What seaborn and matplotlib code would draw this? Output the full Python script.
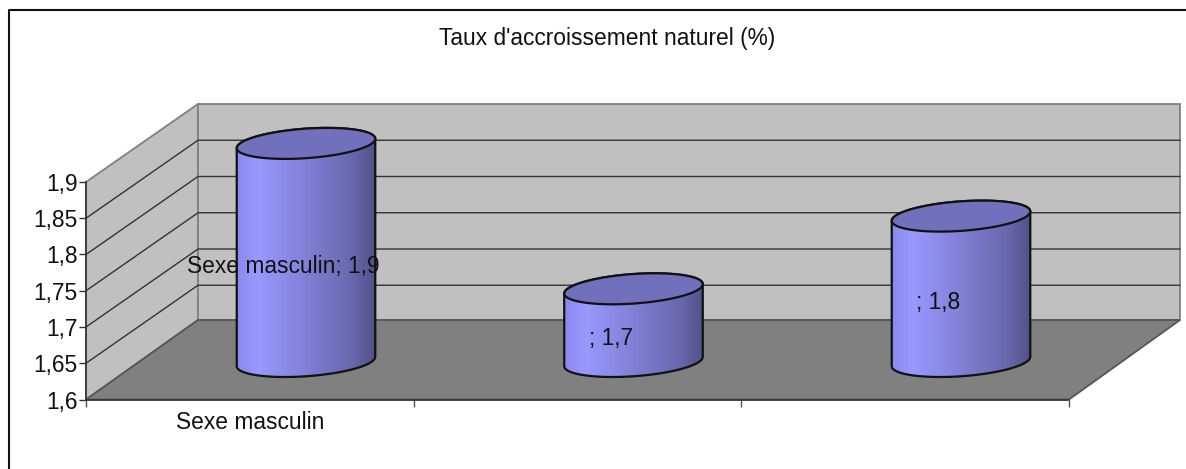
import numpy as np
import pandas as pd
import seaborn as sns
import matplotlib.pyplot as plt
from matplotlib.patches import Polygon
from matplotlib.ticker import FuncFormatter
from matplotlib.transforms import Affine2D

# Chart values
categories = ['Sexe masculin', ' ', '  ']
values = [1.9, 1.7, 1.8]
point_labels = ['Sexe masculin; 1,9', '; 1,7', '; 1,8']
y_ticks = [1.6, 1.65, 1.7, 1.75, 1.8, 1.85, 1.9]
title = "Taux d'accroissement naturel (%)"

W, H = 1186, 469
Y_BASE = 1.6
FONT_SIZE = 16.4

sns.set_theme(style='white')
plt.rcParams['font.family'] = ['Liberation Sans', 'DejaVu Sans']

fig = plt.figure(figsize=(W / 100, H / 100), dpi=100, facecolor='white')
# pixels, y going down
px = Affine2D().scale(1 / W, -1 / H).translate(0, 1) + fig.transFigure


def axes_box(left, top, right, bottom):
    return [left / W, 1 - bottom / H, (right - left) / W, (bottom - top) / H]


# Front plane: value axis and category axis
front = fig.add_axes(axes_box(86, 182, 1069, 399.5), zorder=1)
front.patch.set_visible(False)
front.set_xlim(-0.5, 2.5)
front.set_ylim(Y_BASE, max(y_ticks))
sns.despine(ax=front)
for side in ['left', 'bottom']:
    front.spines[side].set_color('#333333')
    front.spines[side].set_linewidth(1.2)
front.set_yticks(y_ticks)
front.yaxis.set_major_formatter(FuncFormatter(lambda v, p: f'{v:g}'.replace('.', ',')))
front.set_xticks([-0.5, 0.5, 1.5, 2.5])
front.set_xticklabels([])
front.set_xticks([0], labels=[categories[0]], minor=True)
front.tick_params(axis='y', length=5, width=1, color='#333333', labelsize=FONT_SIZE, pad=1, left=True, labelcolor='#111111')
front.tick_params(axis='x', which='major', length=5, width=1, color='#555555', bottom=True)
front.tick_params(axis='x', which='minor', length=0, labelsize=FONT_SIZE, pad=8, labelcolor='#111111')

# Walls and floor of the box
walls = [
    ([(86, 182), (198, 104), (198, 320), (86, 399.5)], '#c0c0c0', '#808080'),
    ([(198, 104), (1180, 104), (1180, 320), (198, 320)], '#c0c0c0', '#808080'),
    ([(86, 399.5), (198, 320), (1180, 320), (1069, 399.5)], '#808080', '#555555'),
]
for pts, fc, ec in walls:
    front.add_patch(Polygon(pts, closed=True, facecolor=fc, edgecolor=ec, linewidth=1.3,
                            transform=px, clip_on=False, zorder=0.5))

# Gridlines on the walls, from the value ticks
for v in y_ticks[1:-1]:
    yf = 399.5 - (v - Y_BASE) * 725
    front.plot([86, 198, 1180], [yf, yf - 78, yf - 78], color='#333333', linewidth=1,
               transform=px, clip_on=False, zorder=0.8)

# Bars plane, cylinders sit here
main = fig.add_axes([0, 0, 1, 1], zorder=2)
main.patch.set_visible(False)
px_per_cat = 327.5
px_per_val = 727.0
xlim = ((0 - 306) / px_per_cat, (W - 306) / px_per_cat)
ylim = (Y_BASE + (361.5 - H) / px_per_val, Y_BASE + 361.5 / px_per_val)

df = pd.DataFrame({'cat': categories, 'height': [v - Y_BASE for v in values]})
sns.barplot(data=df, x='cat', y='height', bottom=Y_BASE, order=categories, width=132 / px_per_cat,
            color='#9999ff', saturation=1, linewidth=0, ax=main)
main.axis('off')

# Cap of a cylinder is a circle sheared along the floor depth
t = np.linspace(0, 2 * np.pi, 181)
cap_x = (66 * np.cos(t) + 21 * np.sin(t)) / px_per_cat
cap_y = 15.5 * np.sin(t) / px_per_val
half = 69 / px_per_cat
right = np.argmax(cap_x)
left = np.argmin(cap_x)

# shading across the body, stepped like the original
stops = np.array([0.0, 0.14, 0.5, 0.8, 1.0])
shade = np.array([[138, 138, 240], [153, 153, 255], [128, 128, 214], [108, 108, 180], [84, 84, 140]]) / 255
steps = np.linspace(0, 1, 34)
grad = np.stack([np.interp(steps, stops, shade[:, i]) for i in range(3)], axis=-1)[np.newaxis, :, :]

for i, v in enumerate(values):
    # outline: lower half of the base cap, then back along the upper edge of the top cap
    idx_low = np.r_[left:len(t), 0:right + 1]
    idx_top = np.arange(right, left + 1)
    body_pts = np.r_[np.c_[i + cap_x[idx_low], Y_BASE + cap_y[idx_low]],
                     np.c_[i + cap_x[idx_top], v + cap_y[idx_top]]]
    body = Polygon(body_pts, closed=True, facecolor='none', edgecolor='#111111', linewidth=1.6, zorder=4)
    main.add_patch(body)
    img = main.imshow(grad, extent=(i - half, i + half, Y_BASE - 0.04, v + 0.04), aspect='auto',
                      interpolation='nearest', zorder=3)
    img.set_clip_path(body)
    main.add_patch(Polygon(np.c_[i + cap_x, v + cap_y], closed=True, facecolor='#7070bc',
                           edgecolor='#111111', linewidth=1.6, zorder=5))
    main.text(i - 0.07, Y_BASE + (v - Y_BASE) / 2 - 0.019, point_labels[i], ha='center', va='center',
              fontsize=FONT_SIZE, color='#111111', zorder=6)
main.set_xlim(xlim)
main.set_ylim(ylim)

fig.text(607 / W, 1 - 38 / H, title, ha='center', va='center', fontsize=FONT_SIZE, color='#111111')

# Chart frame, only top and left show in the crop
fig.add_artist(plt.Line2D([9, 9, W], [H, 10.5, 10.5], color='#111111', linewidth=1.5, transform=px))

fig.savefig('out.png', dpi=100)
